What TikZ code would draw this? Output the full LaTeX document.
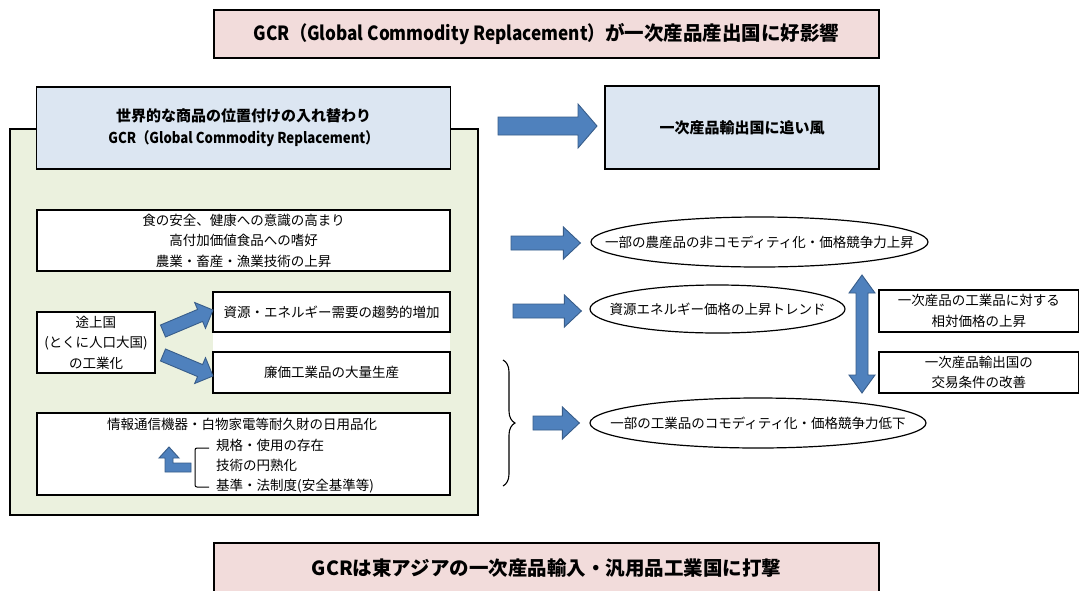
\documentclass[tikz,border=0pt]{standalone}
\usepackage{fontspec}
\setmainfont{Noto Sans CJK JP}
\usetikzlibrary{shapes.geometric,decorations.pathreplacing,calc}
\definecolor{pinkfill}{HTML}{F2DCDB}
\definecolor{greenfill}{HTML}{EBF1DE}
\definecolor{bluefill}{HTML}{DCE6F2}
\definecolor{arrowfill}{HTML}{4F81BD}
\definecolor{arrowline}{HTML}{385D8A}
\newcommand{\fsn}{\fontsize{13.5}{20.5}\selectfont}
\newcommand{\fsh}{\fontsize{15}{22}\selectfont\bfseries}
\newcommand{\fst}{\fontsize{19.5}{24}\selectfont\bfseries}
\newcommand{\narrowtxt}[1]{\scalebox{0.88}[1]{#1}}
\newcommand{\blockarrow}[5]{%
  \path let \p1=(#1), \p2=(#2) in \pgfextra{%
    \pgfmathsetmacro{\baang}{atan2(\y2-\y1,\x2-\x1)}\global\let\baangG\baang
    \pgfmathsetmacro{\balen}{veclen(\x2-\x1,\y2-\y1)}\global\let\balenG\balen
    \xdef\baxG{\x1}\xdef\bayG{\y1}};
  \begin{scope}[shift={(\baxG,\bayG)},rotate=\baangG]
    \draw[barrow] (0pt,-#3pt) -- ({\balenG pt-#5pt},-#3pt) -- ({\balenG pt-#5pt},-#4pt)
      -- (\balenG pt,0pt) -- ({\balenG pt-#5pt},#4pt) -- ({\balenG pt-#5pt},#3pt) -- (0pt,#3pt) -- cycle;
  \end{scope}}
\begin{document}
\begin{tikzpicture}[x=1pt,y=-1pt,
  box/.style={draw=black, line width=1.2pt, fill=white, inner sep=0pt, align=center, font=\fsn},
  titlebox/.style={draw=black, line width=1.6pt, fill=pinkfill, inner sep=0pt, align=center, font=\fst},
  headbox/.style={draw=black, line width=1.3pt, fill=bluefill, inner sep=0pt, align=center, font=\fsh},
  panel/.style={draw=black, line width=1.2pt, fill=greenfill, inner sep=0pt},
  oval/.style={ellipse, draw=black, line width=1.2pt, fill=white, inner sep=0pt},
  barrow/.style={draw=arrowline, line width=0.9pt, fill=arrowfill, line join=miter},
  plain/.style={inner sep=0pt, font=\fsn, align=left}]
\useasboundingbox (0,0) rectangle (1079,590);
\fill[white] (0,0) rectangle (1079,590);

% top title
\node[titlebox, minimum width=665, minimum height=48] (title) at (546.5,34)
  {\narrowtxt{GCR（Global Commodity Replacement）}が一次産品産出国に好影響};

% left panel
\node[panel, minimum width=468, minimum height=386] (panel) at (244,322) {};
\node[headbox, minimum width=414, minimum height=82] (head) at (243.5,128)
  {世界的な商品の位置付けの入れ替わり\\\narrowtxt{GCR（Global Commodity Replacement）}};

\node[headbox, minimum width=274, minimum height=83] (wind) at (742,127.5) {一次産品輸出国に追い風};
\coordinate (ta) at (498,126);
\coordinate (tb) at (597,126);
\blockarrow{ta}{tb}{9}{22}{19}

\node[box, minimum width=413, minimum height=61] (food) at (243.5,240.5)
  {食の安全、健康への意識の高まり\\高付加価値食品への嗜好\\農業・畜産・漁業技術の上昇};

\fill[white] (213,332) rectangle (450,352);
\node[box, minimum width=237, minimum height=40] (res) at (331.5,312) {資源・エネルギー需要の趨勢的増加};
\node[box, minimum width=237, minimum height=41] (cheap) at (331.5,372.5) {廉価工業品の大量生産};
\node[box, minimum width=118, minimum height=61] (dev) at (96,342.5)
  {途上国\\(とくに人口大国)\\の工業化};

\coordinate (d1a) at (163,331);
\coordinate (d1b) at (213,310);
\coordinate (d2a) at (163,355);
\coordinate (d2b) at (213,376);
\blockarrow{d1a}{d1b}{6.5}{14}{14}
\blockarrow{d2a}{d2b}{6.5}{14}{14}

\node[box, minimum width=413, minimum height=82] (info) at (243.5,454) {};
\node[plain, anchor=center] (infot) at (242,424) {情報通信機器・白物家電等耐久財の日用品化};
\node[plain, anchor=west] (s1) at (216,445) {規格・使用の存在};
\node[plain, anchor=west] (s2) at (216,465) {技術の円熟化};
\node[plain, anchor=west] (s3) at (216,486) {基準・法制度(安全基準等)};
\draw[line width=1pt, rounded corners=2pt] (209,448) -- (195,448) -- (195,487) -- (209,487);
\coordinate (btip) at (169,447);
\draw[barrow] (btip) -- ++(10,11) -- ++(-6,0) -- ++(0,5) -- ++(18,0) -- ++(0,9)
  -- ++(-26,0) -- ++(0,-14) -- ++(-6,0) -- cycle;

% right side
\node[oval, minimum width=337, minimum height=50] (e1) at (759.5,242) {};
\node[plain] (e1t) at (e1.center) {一部の農産品の非コモディティ化・価格競争力上昇};
\node[oval, minimum width=255, minimum height=48] (e2) at (717.5,309) {};
\node[plain] (e2t) at (e2.center) {資源エネルギー価格の上昇トレンド};
\node[oval, minimum width=336, minimum height=50] (e3) at (758,423) {};
\node[plain] (e3t) at (e3.center) {一部の工業品のコモディティ化・価格競争力低下};

\coordinate (a1a) at (511,243);
\coordinate (a2a) at (513,311);
\coordinate (a3a) at (533,423);
\blockarrow{a1a}{$(e1.west)+(-10,1)$}{7}{16}{17}
\blockarrow{a2a}{$(e2.west)+(-8,2)$}{7}{16}{17}
\blockarrow{a3a}{$(e3.west)+(-10,0)$}{7}{16}{17}

\draw[line width=1.1pt, decorate, decoration={brace, amplitude=12pt}] (503,360) -- (503,486);

\node[box, minimum width=199.5, minimum height=42] (r1) at (978.75,311) {一次産品の工業品に対する\\相対価格の上昇};
\node[box, minimum width=199.5, minimum height=41] (r2) at (978.75,372.5) {一次産品輸出国の\\交易条件の改善};

\coordinate (dtop) at (862,275);
\coordinate (dbot) at (862,393);
\draw[barrow] (dtop) -- ++(13,18) -- ++(-7,0) -- ($(dbot)+(6,-18)$) -- ++(7,0) -- (dbot)
  -- ++(-13,-18) -- ++(7,0) -- ($(dtop)+(-6,18)$) -- ++(-7,0) -- cycle;

% bottom title
\node[titlebox, minimum width=665, minimum height=50] (bottom) at (546.5,568)
  {GCRは東アジアの一次産品輸入・汎用品工業国に打撃};
\end{tikzpicture}
\end{document}
